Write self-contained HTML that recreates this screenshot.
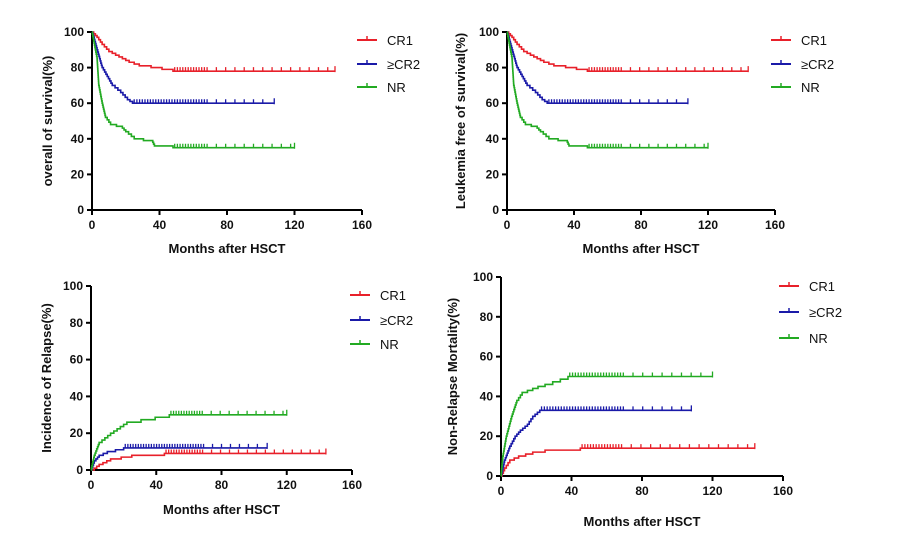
<!DOCTYPE html><html><head><meta charset="utf-8"><style>
body{margin:0;background:#fff;width:921px;height:534px;overflow:hidden}
text{font-family:"Liberation Sans",Arial,sans-serif;font-weight:bold;fill:#111}
</style></head><body>
<svg id="s" width="921" height="534" xmlns="http://www.w3.org/2000/svg"></svg>
<script>
const S=document.getElementById('s');let h='';
const R='#e8202a',B='#1a1aa8',G='#22aa22';
function panel(o){
 const {x0,x1,y0,y1,ytitle,ytx,xty,leg,curves}=o;
 const X=m=>x0+(x1-x0)*m/160, Y=v=>y0-(y0-y1)*v/100;
 h+=`<line x1="${x0}" y1="${y1}" x2="${x0}" y2="${y0}" stroke="#000" stroke-width="2"/>`;
 h+=`<line x1="${x0}" y1="${y0}" x2="${x1}" y2="${y0}" stroke="#000" stroke-width="2"/>`;
 for(let v=0;v<=100;v+=20){h+=`<line x1="${x0-5}" x2="${x0}" y1="${Y(v)}" y2="${Y(v)}" stroke="#000" stroke-width="2"/><text x="${x0-8}" y="${Y(v)+4}" font-size="12" text-anchor="end">${v}</text>`}
 for(let m=0;m<=160;m+=40){h+=`<line x1="${X(m)}" x2="${X(m)}" y1="${y0}" y2="${y0+5}" stroke="#000" stroke-width="2"/><text x="${X(m)}" y="${y0+19}" font-size="12" text-anchor="middle">${m}</text>`}
 h+=`<text x="${(x0+x1)/2}" y="${xty}" font-size="13" text-anchor="middle">Months after HSCT</text>`;
 const cy=(y0+y1)/2;
 h+=`<text transform="translate(${ytx},${cy}) rotate(-90)" font-size="13" text-anchor="middle">${ytitle}</text>`;
 const names=['CR1','≥CR2','NR'],cols=[R,B,G];
 leg.ys.forEach((y,i)=>{h+=`<line x1="${leg.x}" x2="${leg.x+20}" y1="${y}" y2="${y}" stroke="${cols[i]}" stroke-width="2"/><line x1="${leg.x+10}" x2="${leg.x+10}" y1="${y-4}" y2="${y}" stroke="${cols[i]}" stroke-width="1.5"/><text x="${leg.x+30}" y="${y+5}" font-size="13" style="font-weight:normal">${names[i]}</text>`});
 curves.forEach((c,i)=>{
  const pts=c.p, end=c.e;
  // densify into small steps
  let fine=[[0,pts[0][1]]];
  for(let k=1;k<pts.length;k++){
    const [ma,va]=pts[k-1],[mb,vb]=pts[k];
    const n=Math.max(1,Math.round(Math.abs(vb-va)/1.2));
    for(let j=1;j<=n;j++){fine.push([ma+(mb-ma)*j/n, va+(vb-va)*j/n]);}
  }
  let d=`M${X(0)},${Y(fine[0][1])}`;let cur=fine[0][1];
  for(const [m,v] of fine.slice(1)){d+=`H${X(m).toFixed(2)}V${Y(v).toFixed(2)}`;cur=v}
  d+=`H${X(end)}`;
  h+=`<path d="${d}" fill="none" stroke="${cols[i]}" stroke-width="1.6"/>`;
  const last=pts[pts.length-1][0];
  let ticks='';for(let m=last+1;m<=end-2;m+=(m<68?1.6:5.5)){ticks+=`M${X(m).toFixed(2)},${Y(cur)-4}v4`}
  ticks+=`M${X(end)},${Y(cur)-5}v6`;
  h+=`<path d="${ticks}" stroke="${cols[i]}" stroke-width="1.3" fill="none"/>`;
 });
}
const os=[{p:[[0,100],[3,97],[6,93],[10,89],[16,86],[22,83],[28,81],[35,80],[48,78]],e:144},
{p:[[0,100],[1,97],[3,90],[6,80],[9,75],[12,70],[17,66],[21,62],[24,60]],e:108},
{p:[[0,100],[1,95],[3,85],[4,70],[6,60],[8,52],[11,48],[18,46],[20,44],[25,40],[36,38],[37,36],[48,35]],e:120}];
panel({x0:92,x1:362,y0:210,y1:32,ytitle:'overall of survival(%)',ytx:52,xty:253,leg:{x:357,ys:[40,64,87]},curves:os});
panel({x0:507,x1:775,y0:210,y1:32,ytitle:'Leukemia free of survival(%)',ytx:465,xty:253,leg:{x:771,ys:[40,64,87]},curves:os});
panel({x0:91,x1:352,y0:470,y1:286,ytitle:'Incidence of Relapse(%)',ytx:51,xty:514,leg:{x:350,ys:[295,320,344]},curves:[
{p:[[0,0],[2,1],[5,3],[12,6],[25,8],[45,9]],e:144},
{p:[[0,0],[2,5],[5,8],[10,10],[20,12]],e:108},
{p:[[0,0],[2,8],[5,15],[12,20],[22,26],[48,30]],e:120}]});
panel({x0:501,x1:783,y0:476,y1:277,ytitle:'Non-Relapse Mortality(%)',ytx:457,xty:526,leg:{x:779,ys:[286,312,338]},curves:[
{p:[[0,0],[2,4],[5,8],[10,10],[18,12],[25,13],[45,14]],e:144},
{p:[[0,0],[2,8],[5,15],[8,20],[11,23],[15,26],[18,30],[22,33]],e:108},
{p:[[0,0],[1,10],[3,20],[6,30],[9,38],[12,42],[21,45],[25,46],[38,50]],e:120}]});
S.innerHTML=h;
</script></body></html>
